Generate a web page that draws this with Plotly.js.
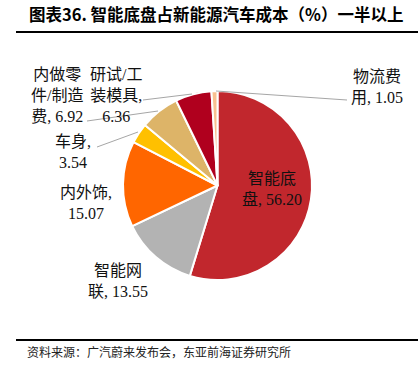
<!DOCTYPE html>
<html><head><meta charset="utf-8">
<script src="https://cdn.plot.ly/plotly-3.0.1.min.js"></script>
<style>html,body{margin:0;padding:0;background:#fff;}#chart{width:420px;height:376px;}</style>
</head><body><div id="chart"></div>
<script>
const categories = ['智能底盘','智能网联','内外饰','车身','内做零件/制造费','研试/工装模具','物流费用'];
const values = [56.20, 13.55, 15.07, 3.54, 6.92, 6.36, 1.05];
const labelLines = [['智能底','盘, '],['智能网','联, '],['内外饰,',''],['车身,',''],['内做零','件/制造','费, '],['研试/工','装模具,',''],['物流费','用, ']];
const colors = ['#C1272D','#B3B3B3','#FF6600','#FFC000','#DDB468','#B0001E','#F8C090'];

// label anchor positions (px) and leader lines (px) -- layout only
const labelPos = [[272,189],[118,281],[86,203],[73,152],[57,96],[116,96],[377,87]];
const leaders = [null,null,null,[[97,147],[138,132]],[[87,121],[158,111]],[[143,100],[192,94]],[[216,91],[347,100]]];

const W=420,H=376;
const px = x=>x/W, py = y=>1-y/H;
const fmt = v=>v.toFixed(2);
const annotations = [];
categories.forEach((c,i)=>{
  const lines = labelLines[i].slice();
  lines[lines.length-1] = lines[lines.length-1] + fmt(values[i]);
  annotations.push({xref:'paper',yref:'paper',x:px(labelPos[i][0]),y:py(labelPos[i][1]),
    text:lines.join('<br>'),showarrow:false,xanchor:'center',yanchor:'middle',align:'center',
    font:{family:'Liberation Serif, Noto Sans CJK SC, serif',size:16,color:'#111'}});
});
annotations.push({xref:'paper',yref:'paper',x:px(27),y:py(14),xanchor:'left',yanchor:'middle',showarrow:false,
  text:'<b>图表36. 智能底盘占新能源汽车成本（%）一半以上</b>',font:{family:'Noto Sans CJK SC',size:16.5,color:'#000'}});
annotations.push({xref:'paper',yref:'paper',x:px(25),y:py(351),xanchor:'left',yanchor:'middle',showarrow:false,
  text:'资料来源：广汽蔚来发布会，东亚前海证券研究所',font:{family:'Noto Sans CJK SC',size:12,color:'#222'}});

const shapes = [
  {type:'line',xref:'paper',yref:'paper',x0:px(16),x1:px(418),y0:py(32),y1:py(32),line:{color:'#000',width:2}},
  {type:'line',xref:'paper',yref:'paper',x0:px(16),x1:px(418),y0:py(340),y1:py(340),line:{color:'#000',width:2}}
];
leaders.forEach(l=>{ if(!l) return;
  shapes.push({type:'line',xref:'paper',yref:'paper',x0:px(l[0][0]),y0:py(l[0][1]),x1:px(l[1][0]),y1:py(l[1][1]),line:{color:'#A6A6A6',width:1}});
});

const cx=217.5, cy=185.5, r=94.5;
Plotly.newPlot('chart',[{
  type:'pie',labels:categories,values:values,sort:false,direction:'clockwise',rotation:0,
  marker:{colors:colors,line:{color:'#fff',width:2}},textinfo:'none',hoverinfo:'none',
  domain:{x:[px(cx-r),px(cx+r)],y:[py(cy+r),py(cy-r)]}
}],{
  width:W,height:H,margin:{l:0,r:0,t:0,b:0},showlegend:false,paper_bgcolor:'#fff',
  annotations:annotations,shapes:shapes
},{displayModeBar:false,staticPlot:true});
</script></body></html>
